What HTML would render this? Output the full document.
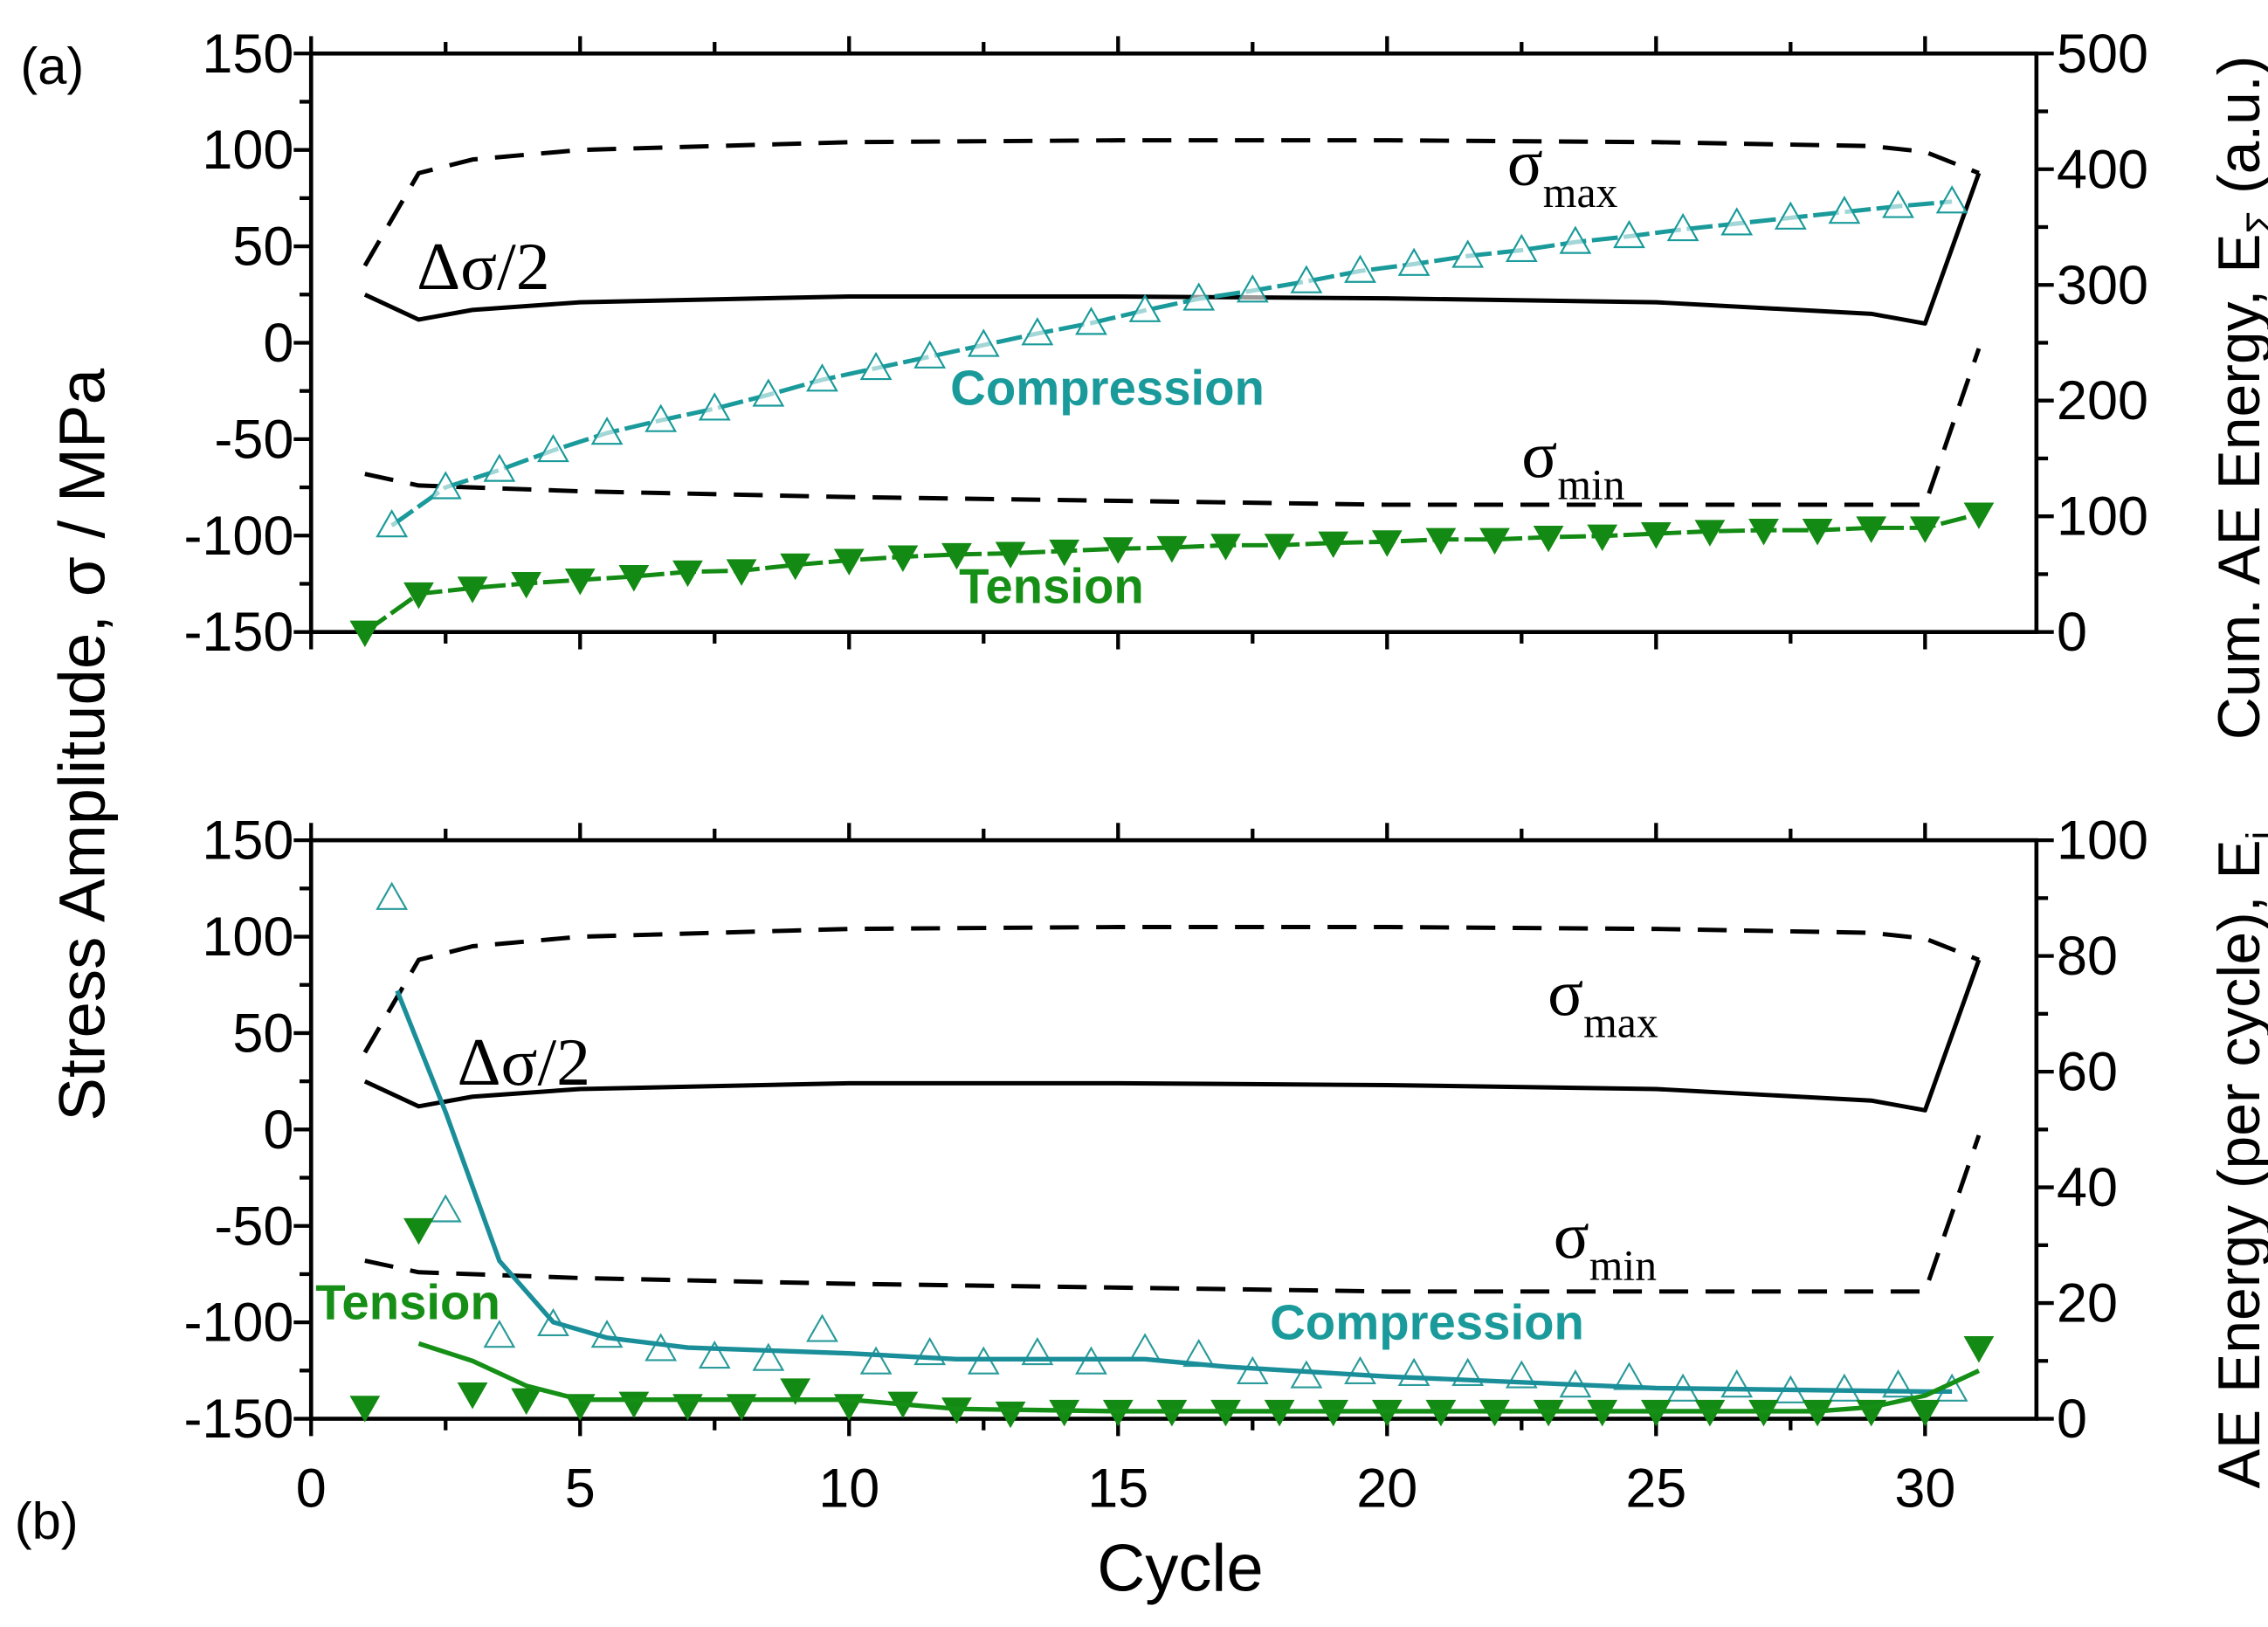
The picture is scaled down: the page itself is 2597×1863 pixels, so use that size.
<!DOCTYPE html>
<html><head><meta charset="utf-8"><style>
html,body{margin:0;padding:0;background:#fff;}
svg{display:block;}
text{font-family:"Liberation Sans",Arial,sans-serif;}
.serif{font-family:"Liberation Serif","DejaVu Serif",serif;}
</style></head><body>
<svg id="chart" width="2597" height="1863" viewBox="0 0 1568 1125" xmlns="http://www.w3.org/2000/svg">
<g id="axes"></g>
<g id="series"></g>
<g id="labels">
<text x="14" y="58" font-size="36">(a)</text>
<text x="10" y="1064" font-size="36">(b)</text>
<text font-size="45" text-anchor="middle" transform="translate(72,515) rotate(-90)">Stress Amplitude, σ / MPa</text>
<text font-size="41" text-anchor="middle" transform="translate(1562,275) rotate(-90)">Cum. AE Energy, E<tspan font-size="26" dy="9">Σ</tspan><tspan dy="-9"> (a.u.)</tspan></text>
<text font-size="41" text-anchor="middle" transform="translate(1562,802) rotate(-90)">AE Energy (per cycle), E<tspan font-size="26" dy="9">i</tspan></text>
<text x="816" y="1100" font-size="46" text-anchor="middle">Cycle</text>
<text class="serif" x="288" y="200" font-size="47">Δσ/2</text>
<text class="serif" x="1042" y="128" font-size="46">σ<tspan font-size="30" dy="15">max</tspan></text>
<text class="serif" x="1052" y="330" font-size="46">σ<tspan font-size="30" dy="15">min</tspan></text>
<text x="657" y="280" font-size="34" font-weight="bold" fill="#1a9a9a">Compression</text>
<text x="663" y="417" font-size="34" font-weight="bold" fill="#168f16">Tension</text>
<text class="serif" x="316" y="750" font-size="47">Δσ/2</text>
<text class="serif" x="1070" y="702" font-size="46">σ<tspan font-size="30" dy="15">max</tspan></text>
<text class="serif" x="1074" y="870" font-size="46">σ<tspan font-size="30" dy="15">min</tspan></text>
<text x="218" y="912" font-size="34" font-weight="bold" fill="#168f16">Tension</text>
<text x="878" y="926" font-size="34" font-weight="bold" fill="#1a9a9a">Compression</text>
</g>
</svg>
<script>
// ---- data ----
const maxX = [1,2,3,5,10,15,20,25,29,30,31];
const maxY = [40,88,95,100,104,105,105,104,102,99,88];
const ampX = [1,2,3,5,10,15,20,25,29,30,31];
const ampY = [25,12,17,21,24,24,23,21,15,10,88];
const minX = [1,2,5,10,15,20,25,30,31];
const minY = [-68,-74,-77,-80,-82,-84,-84,-84,-3];
// top panel: cumulative AE energy (right axis 0-500)
const cumCompX = [1.5,2.5,3.5,4.5,5.5,6.5,7.5,8.5,9.5,10.5,11.5,12.5,13.5,14.5,15.5,16.5,17.5,18.5,19.5,20.5,21.5,22.5,23.5,24.5,25.5,26.5,27.5,28.5,29.5,30.5];
const cumCompE = [92,125,140,157,172,183,193,205,218,228,238,248,258,267,278,288,295,303,312,318,325,330,337,342,348,353,358,363,368,372];
const cumTensX = [1,2,3,4,5,6,7,8,9,10,11,12,13,14,15,16,17,18,19,20,21,22,23,24,25,26,27,28,29,30,31];
const cumTensE = [0,33,38,42,45,48,52,53,58,62,65,67,68,70,72,73,75,75,77,78,80,80,82,83,85,87,88,88,90,90,102];
// bottom panel: per-cycle AE energy (right axis 0-100)
const compPtX = cumCompX;
const compPtE = [90,36,14.3,16.3,14.3,12,10.7,10.3,15.3,9.7,11.3,9.7,11.3,9.7,12,11,8,7.3,8,7.7,7.7,7.3,5.7,7,5,5.7,4.7,5,5.7,5];
const compLineX = [1.6,2.5,3.5,4.5,5.5,7,10,12,15.5,17,20,25,30,30.5];
const compLineE = [74,53,27.3,16.7,14,12.3,11.3,10.3,10.3,9,7.3,5.3,4.7,4.7];
const tensPtX = cumTensX;
const tensPtE = [2,32.7,4.3,3.3,2.3,2.7,2.3,2.3,5,2.3,2.7,1.7,1,1.3,1.3,1.3,1.3,1.3,1.3,1.3,1.3,1.3,1.3,1.3,1.3,1.3,1.3,1.3,1.3,1.3,12.3];
const tensLineX = [2,3,4,5,8,10,12,15,20,25,28,29,30,31];
const tensLineE = [13,10,5.7,3.3,3.3,3.3,1.7,1.3,1.3,1.3,1.3,2,4,8.3];
const xTicks = [0,5,10,15,20,25,30];
const leftTicks = [150,100,50,0,-50,-100,-150];
const rightTopTicks = [0,100,200,300,400,500];
const rightBotTicks = [0,20,40,60,80,100];

// ---- geometry ----
const L=215,R=1408;
const X = v => L + v*37.2;
const panels = [{top:37,bot:437,rmax:500},{top:581,bot:981,rmax:100}];
const S = (p,s) => p.bot - (s+150)/300*(p.bot-p.top);
const E = (p,e) => p.bot - e/p.rmax*(p.bot-p.top);
const NS="http://www.w3.org/2000/svg";
const axes=document.getElementById('axes'), ser=document.getElementById('series');
function mk(tag,attrs,parent){const el=document.createElementNS(NS,tag);for(const k in attrs)el.setAttribute(k,attrs[k]);parent.appendChild(el);return el;}
function line(x1,y1,x2,y2,parent,name){const el=mk('line',{x1,y1,x2,y2,stroke:'#000','stroke-width':2.6},parent);

return el;}
function txt(x,y,s,anchor,parent,name){const el=mk('text',{x,y,'font-size':38,'text-anchor':anchor},parent);el.textContent=s;

return el;}
function path(xs,ys,fx,fy,stroke,w,dash,name){let d='';xs.forEach((x,i)=>{d+=(i?'L':'M')+fx(x).toFixed(1)+','+fy(ys[i]).toFixed(1);});
const el=mk('path',{d,fill:'none',stroke,'stroke-width':w,'stroke-dasharray':dash||'none','stroke-linejoin':'round'},ser);

return el;}
function triUp(x,y,name,color){const s=10;const el=mk('path',{d:`M${x},${y-s}L${x+s},${y+s*0.75}L${x-s},${y+s*0.75}Z`,fill:'#fff','fill-opacity':0.6,stroke:color,'stroke-width':1.3},ser);

}
function triDown(x,y,name){const s=10.5;const el=mk('path',{d:`M${x-s},${y-s*0.75}L${x+s},${y-s*0.75}L${x},${y+s}Z`,fill:'#138a13'},ser);

}

panels.forEach((p,pi)=>{
  const tag=pi?'bottom':'top';
  const fr=mk('rect',{x:L,y:p.top,width:R-L,height:p.bot-p.top,fill:'none',stroke:'#000','stroke-width':2.8},axes);
  
  
  for(let v=0;v<=32.5;v+=2.5){const x=X(v);if(x>R)break;const len=(v%5===0)?12:8;
    line(x,p.top,x,p.top-len,axes,'x-tick-top-'+tag);line(x,p.bot,x,p.bot+len,axes,'x-tick-bottom-'+tag);}
  for(let s=150;s>=-150;s-=25){const y=S(p,s);line(L,y,L-(s%50===0?12:8),y,axes,'y-tick-left-'+tag);}
  leftTicks.forEach(s=>txt(L-12,S(p,s)+13,String(s),'end',axes,'y-tick-label-left-'+tag));
  const rt=pi?rightBotTicks:rightTopTicks;const step=rt[1]-rt[0];
  for(let e=0;e<=p.rmax;e+=step/2){const y=E(p,e);line(R,y,R+(Math.abs(e/step-Math.round(e/step))<1e-6?12:8),y,axes,'y-tick-right-'+tag);}
  rt.forEach(e=>txt(R+14,E(p,e)+13,String(e),'start',axes,'y-tick-label-right-'+tag));
  path(maxX,maxY,X,s=>S(p,s),'#000',3,'20,12','sigma-max-line-'+tag);
  path(ampX,ampY,X,s=>S(p,s),'#000',3,null,'delta-sigma-line-'+tag);
  path(minX,minY,X,s=>S(p,s),'#000',3,'20,12','sigma-min-line-'+tag);
});
xTicks.forEach(v=>txt(X(v),1042,String(v),'middle',axes,'x-tick-label'));

const pT=panels[0],pB=panels[1];
path(cumCompX,cumCompE,X,e=>E(pT,e),'#1a9a9a',3,'18,4','compression-line-top');
cumCompX.forEach((x,i)=>triUp(X(x),E(pT,cumCompE[i]),'compression-marker-top','#1a9a9a'));
path(cumTensX,cumTensE,X,e=>E(pT,e),'#138a13',3,'18,4','tension-line-top');
cumTensX.forEach((x,i)=>triDown(X(x),E(pT,cumTensE[i]),'tension-marker-top'));
compPtX.forEach((x,i)=>triUp(X(x),E(pB,compPtE[i]),'compression-marker-bottom','#2a9a9a'));
tensPtX.forEach((x,i)=>triDown(X(x),E(pB,tensPtE[i]),'tension-marker-bottom'));
path(compLineX,compLineE,X,e=>E(pB,e),'#1a8f9a',3.2,null,'compression-smooth-line-bottom');
path(tensLineX,tensLineE,X,e=>E(pB,e),'#168f16',3.2,null,'tension-smooth-line-bottom');
</script>
</body></html>
